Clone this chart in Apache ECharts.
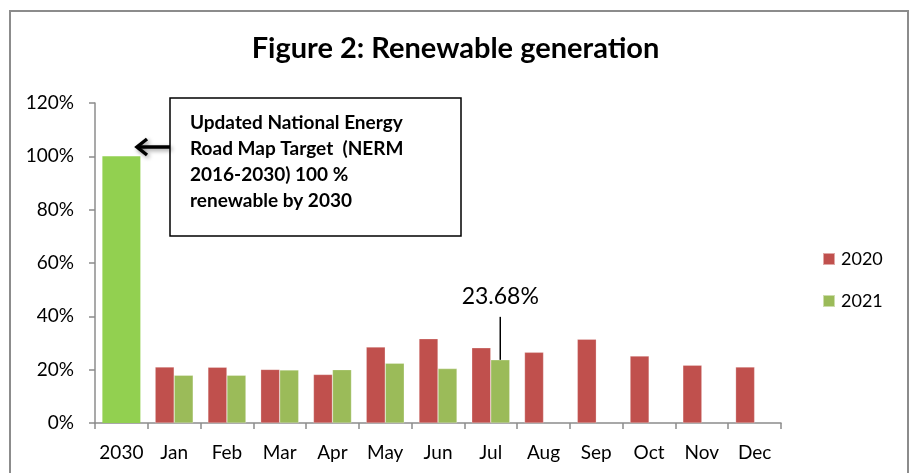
<!DOCTYPE html>
<html>
<head>
<meta charset="utf-8">
<script src="https://cdn.jsdelivr.net/npm/echarts@6/dist/echarts.min.js"></script>
<style>
html,body{margin:0;padding:0;background:#fff;}
#main{width:911px;height:473px;}
</style>
</head>
<body>
<div id="main"></div>
<script>
var categories = ['2030','Jan','Feb','Mar','Apr','May','Jun','Jul','Aug','Sep','Oct','Nov','Dec'];
var values2020 = [null, 21.0, 20.9, 20.1, 18.2, 28.5, 31.6, 28.2, 26.5, 31.4, 25.1, 21.7, 21.0];
var values2021 = [null, 17.9, 17.9, 19.9, 20.0, 22.4, 20.4, 23.68, null, null, null, null, null];
var targetValues = [100, null, null, null, null, null, null, null, null, null, null, null, null];
var yTicks = [0, 20, 40, 60, 80, 100, 120];
var calloutIndex = 7;
var calloutText = '23.68%';
var noteLines = ['Updated National Energy', 'Road Map Target  (NERM', '2016-2030) 100 %', 'renewable by 2030'];

var FONT = 'Lato';
var chart = echarts.init(document.getElementById('main'), null, {renderer: 'canvas'});

var noteGraphics = [
  {type:'rect', shape:{x:10, y:11, width:898, height:470}, style:{fill:'none', stroke:'#8c8c8c', lineWidth:2}, silent:true},
  {type:'rect', shape:{x:170, y:98, width:291, height:138}, style:{fill:'#fff', stroke:'#000', lineWidth:1.5}, z:10},
  {type:'line', shape:{x1:170, y1:147, x2:138, y2:147}, style:{stroke:'#000', lineWidth:3.5, shadowBlur:4, shadowColor:'rgba(0,0,0,0.4)', shadowOffsetX:2, shadowOffsetY:2}, z:10},
  {type:'polyline', shape:{points:[[147,139],[137,147],[147,155]]}, style:{stroke:'#000', fill:'none', lineWidth:3.5, shadowBlur:4, shadowColor:'rgba(0,0,0,0.4)', shadowOffsetX:2, shadowOffsetY:2}, z:10}
];
noteLines.forEach(function(t, i){
  noteGraphics.push({type:'text', x:190, y:123 + i*26, z:11,
    style:{text:t, font:'bold 19px ' + FONT, fill:'#000', textVerticalAlign:'middle'}});
});

var option = {
  backgroundColor:'#fff',
  animation:false,
  title:{text:'Figure 2: Renewable generation', left:'center', top:29,
    textStyle:{fontFamily:FONT, fontSize:29, fontWeight:'bold', color:'#000'}},
  legend:{orient:'vertical', left:822, top:250, padding:0, itemWidth:12, itemHeight:12, itemGap:24,
    data:['2020','2021'], icon:'rect',
    textStyle:{fontFamily:FONT, fontSize:18, color:'#000', padding:[0,0,0,1]}},
  grid:{left:95, right:130, top:103, bottom:50, containLabel:false},
  xAxis:[{type:'category', data:categories,
    axisLine:{lineStyle:{color:'#8c8c8c', width:1.5}},
    axisTick:{show:true, length:6, lineStyle:{color:'#8c8c8c', width:1.5}},
    axisLabel:{fontFamily:FONT, fontSize:19, color:'#000', margin:20, interval:0}},
   {type:'category', data:categories, show:false}],
  yAxis:{type:'value', min:0, max:120, interval:20,
    axisLine:{show:true, lineStyle:{color:'#8c8c8c', width:1.5}},
    axisTick:{show:true, length:6, lineStyle:{color:'#8c8c8c', width:1.5}},
    splitLine:{show:false},
    axisLabel:{fontFamily:FONT, fontSize:19, color:'#000', margin:21,
      formatter:function(v){return yTicks.indexOf(v) >= 0 ? v + '%' : '';}}},
  series:[
    {name:'2020', type:'bar', data:values2020, barWidth:19, barGap:'0%',
      itemStyle:{color:'#C0504D', borderColor:'rgba(255,255,255,0.5)', borderWidth:0.5}},
    {name:'2021', type:'bar', data:values2021, barWidth:19, barGap:'0%',
      itemStyle:{color:'#9BBB59', borderColor:'rgba(255,255,255,0.5)', borderWidth:0.5}},
    {name:'Target', type:'bar', xAxisIndex:1, data:targetValues, barWidth:38,
      itemStyle:{color:'#92D050'}}
  ],
  graphic:noteGraphics
};
chart.setOption(option);

var lay = null;
try { lay = chart.getModel().getSeriesByIndex(1).getData().getItemLayout(calloutIndex); } catch(e) {}
var cx, topY;
if (lay) { cx = lay.x + lay.width/2; topY = Math.min(lay.y, lay.y + lay.height); }
else { var p = chart.convertToPixel({xAxisIndex:0, yAxisIndex:0}, [categories[calloutIndex], values2021[calloutIndex]]); cx = p[0] + 9.5; topY = p[1]; }
noteGraphics.push({type:'line', shape:{x1:cx, y1:topY, x2:cx, y2:topY - 43}, style:{stroke:'#000', lineWidth:1.5}, z:10});
noteGraphics.push({type:'text', x:cx, y:topY - 63, z:11,
  style:{text:calloutText, font:'23px ' + FONT, fill:'#000', textAlign:'center', textVerticalAlign:'middle'}});
chart.setOption({graphic:noteGraphics});
</script>
</body>
</html>
